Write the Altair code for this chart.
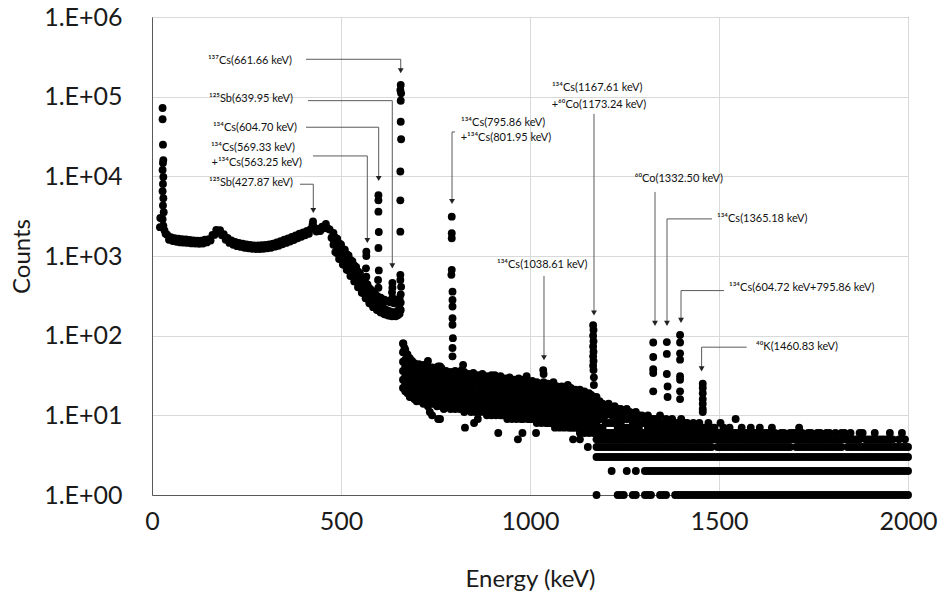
import altair as alt
import pandas as pd

# ---------------- spectrum data (energy keV, counts) ----------------
# K X-ray region at the low-energy end
xray = [(21, 2300), (22, 3000), (28, 72000), (28, 52000), (29, 25000), (30, 16000),
        (29, 14700), (28, 12000), (30, 9800), (29, 8000), (28, 6500), (30, 5300),
        (29, 4300), (31, 3550), (28, 2900), (30, 2400), (33, 2100), (36, 1900)]

# Compton continuum below the Compton edge
continuum = [(40, 1850), (45, 1600), (50, 1720), (55, 1540), (60, 1670), (65, 1510),
             (70, 1650), (75, 1480), (80, 1620), (85, 1470), (90, 1610), (95, 1460),
             (100, 1590), (105, 1440), (110, 1570), (115, 1430), (120, 1560), (125, 1420),
             (130, 1560), (135, 1430), (140, 1600), (145, 1480), (150, 1620), (155, 1560),
             (160, 1840), (165, 1840), (170, 2130), (175, 2000), (180, 2110), (185, 1820),
             (190, 1880), (195, 1600), (200, 1690), (205, 1460), (210, 1570), (215, 1380),
             (220, 1500), (225, 1330), (230, 1460), (235, 1300), (240, 1430), (245, 1270),
             (250, 1400), (255, 1250), (260, 1380), (265, 1230), (270, 1360), (275, 1220),
             (280, 1360), (285, 1220), (290, 1370), (295, 1230), (300, 1380), (305, 1250),
             (310, 1400), (315, 1270), (320, 1430), (325, 1310), (330, 1480), (335, 1340),
             (340, 1530), (345, 1400), (350, 1600), (355, 1460), (360, 1660), (365, 1520),
             (370, 1730), (375, 1590), (380, 1810), (385, 1670), (390, 1900), (395, 1740),
             (400, 1980), (405, 1820), (410, 2070), (415, 1900), (420, 2180), (425, 2500),
             (430, 2250), (435, 2030), (440, 2180), (445, 2060), (450, 2340), (455, 2230),
             (460, 2520), (465, 2220), (470, 2150), (475, 1700)]

# falling edge between the Compton edge and the 661 keV photopeak: (E, high, mid, low)
falling = [(480, 1950, 1600, 1380), (485, 1700, 1450, 1120), (490, 1650, 1280, 1080),
           (495, 1450, 1200, 920), (500, 1400, 1080, 900), (505, 1230, 1020, 780),
           (510, 1200, 920, 770), (515, 1050, 870, 670), (520, 1020, 780, 660),
           (525, 890, 740, 560), (530, 860, 660, 560), (535, 760, 630, 480),
           (540, 730, 560, 475), (545, 640, 535, 405), (550, 610, 475, 400),
           (555, 540, 445, 345), (560, 520, 400, 340), (565, 460, 380, 295),
           (570, 440, 340, 290), (575, 395, 325, 255), (580, 375, 295, 250),
           (585, 345, 280, 228), (590, 335, 262, 228), (595, 315, 262, 210),
           (600, 305, 245, 207), (605, 300, 236, 196), (610, 285, 226, 194),
           (615, 282, 216, 186), (620, 270, 211, 185), (625, 272, 204, 179),
           (630, 262, 202, 179), (635, 268, 197, 175), (640, 255, 196, 176),
           (645, 262, 194, 175), (650, 275, 206, 181), (655, 295, 218, 188)]

# continuum above 661 keV, several channels per energy bin
band = [(664, [80, 62, 47, 36, 28, 22]), (670, [66, 50, 41, 31, 25, 20]),
        (676, [58, 46, 35, 29, 23, 19]), (682, [52, 40, 33, 26, 21, 17]),
        (688, [48, 39, 30, 24, 20, 17]), (694, [45, 36, 29, 23, 19, 16]),
        (700, [41, 35, 27, 22, 18, 15]), (706, [44, 33, 28, 21, 17, 16]),
        (712, [39, 32, 26, 23, 19, 15]), (718, [43, 34, 25, 20, 17, 14]),
        (724, [37, 31, 27, 21, 18, 16]), (730, [41, 30, 24, 22, 16, 13]),
        (736, [36, 33, 26, 20, 17, 15]), (742, [40, 29, 25, 19, 16, 14]),
        (748, [35, 30, 23, 21, 18, 14]), (754, [38, 32, 24, 18, 15, 13]),
        (760, [34, 28, 25, 20, 16, 14]), (766, [39, 30, 22, 19, 17, 13]),
        (772, [33, 29, 24, 18, 15, 12]), (778, [36, 27, 23, 20, 16, 14]),
        (784, [32, 30, 22, 17, 15, 13]), (790, [35, 28, 21, 19, 16, 12]),
        (796, [33, 26, 23, 18, 14, 13]), (802, [36, 29, 22, 17, 15, 12]),
        (808, [31, 27, 21, 19, 16, 13]), (814, [34, 25, 23, 17, 14, 12]),
        (820, [32, 28, 20, 18, 15, 13]), (826, [35, 26, 22, 16, 14, 11]),
        (832, [30, 27, 21, 18, 15, 12]), (838, [33, 25, 20, 17, 13, 12]),
        (844, [31, 28, 22, 16, 15, 11]), (850, [34, 24, 21, 18, 14, 12]),
        (856, [29, 26, 20, 17, 13, 11]), (862, [32, 27, 19, 16, 15, 12]),
        (868, [30, 24, 21, 17, 14, 11]), (874, [33, 26, 20, 15, 13, 12]),
        (880, [29, 25, 19, 17, 14, 11]), (886, [31, 23, 21, 16, 13, 10]),
        (892, [28, 26, 19, 15, 14, 11]), (898, [32, 24, 20, 17, 13, 10]),
        (904, [29, 25, 18, 16, 12, 11]), (910, [30, 23, 20, 15, 14, 10]),
        (916, [27, 24, 19, 16, 12, 11]), (922, [31, 22, 18, 15, 13, 10]),
        (928, [28, 24, 20, 14, 12, 10]), (934, [29, 23, 17, 16, 13, 10]),
        (940, [26, 22, 19, 15, 12, 9]), (946, [30, 24, 18, 14, 11, 10]),
        (952, [27, 21, 19, 15, 13, 9]), (958, [28, 23, 17, 14, 12, 10]),
        (964, [26, 22, 18, 15, 11, 9]), (970, [29, 21, 17, 13, 12, 10]),
        (976, [25, 23, 18, 14, 11, 9]), (982, [28, 20, 16, 15, 12, 9]),
        (988, [26, 22, 17, 13, 11, 10]), (994, [27, 21, 18, 14, 12, 9]),
        (1000, [25, 20, 16, 13, 11, 9]), (1006, [27, 22, 17, 14, 10, 9]),
        (1012, [24, 21, 16, 13, 12, 9]), (1018, [26, 19, 17, 14, 11, 8]),
        (1024, [25, 21, 15, 13, 10, 9]), (1030, [24, 20, 16, 12, 11, 8]),
        (1036, [26, 19, 15, 13, 10, 9]), (1042, [23, 20, 16, 12, 10, 8]),
        (1048, [25, 18, 15, 13, 11, 8]), (1054, [22, 19, 14, 12, 9, 8]),
        (1060, [24, 18, 15, 11, 10, 8]), (1066, [22, 19, 14, 12, 9, 7]),
        (1072, [23, 17, 15, 11, 10, 8]), (1078, [21, 18, 13, 12, 9, 7]),
        (1084, [23, 17, 14, 11, 10, 8]), (1090, [21, 18, 13, 11, 9, 7]),
        (1096, [22, 16, 14, 12, 9, 8]), (1102, [20, 17, 13, 10, 9, 7]),
        (1108, [22, 16, 14, 11, 8, 7]), (1114, [20, 17, 12, 11, 9, 7]),
        (1120, [21, 15, 13, 10, 8, 7]), (1126, [19, 16, 12, 11, 9, 7]),
        (1132, [21, 15, 13, 10, 8, 6]), (1138, [19, 16, 12, 10, 9, 7]),
        (1144, [20, 15, 12, 9, 8, 6]), (1150, [18, 16, 13, 10, 8, 7]),
        (1156, [19, 14, 12, 10, 8, 6]), (1162, [18, 15, 11, 9, 8, 7]),
        (1168, [17, 14, 12, 9, 7, 6])]

# high-energy tail, integer counts per energy bin
tail = [(1176, [17, 13, 10, 8, 6, 5, 4, 3, 1]), (1184, [15, 12, 9, 7, 6, 5, 4, 3]),
        (1192, [14, 11, 9, 7, 5, 4, 3]), (1200, [13, 10, 8, 6, 5, 4, 3]),
        (1208, [14, 11, 8, 6, 5, 4, 3]), (1216, [12, 10, 8, 6, 5, 4, 3, 2]),
        (1224, [13, 10, 8, 6, 5, 4, 3]), (1232, [12, 9, 7, 6, 5, 4, 3, 1]),
        (1240, [12, 10, 8, 6, 5, 4, 3, 1]), (1248, [11, 9, 7, 6, 5, 4, 3, 1]),
        (1256, [12, 9, 7, 6, 5, 4, 3, 2]), (1264, [11, 9, 7, 6, 5, 4, 3]),
        (1272, [10, 8, 7, 6, 5, 4, 3, 1]), (1280, [11, 9, 7, 6, 5, 4, 3, 2, 1]),
        (1288, [10, 8, 7, 5, 4, 3]), (1296, [10, 8, 6, 5, 4, 3]),
        (1304, [9, 8, 6, 5, 4, 3, 2, 1]), (1312, [10, 8, 7, 6, 5, 4, 3, 2, 1]),
        (1320, [9, 7, 6, 5, 4, 3, 2, 1]), (1328, [9, 8, 6, 5, 4, 3, 2]),
        (1336, [9, 7, 6, 5, 4, 3, 2]), (1344, [10, 8, 6, 5, 4, 3, 2, 1]),
        (1352, [8, 7, 6, 5, 4, 3, 2, 1]), (1360, [9, 7, 6, 5, 4, 3, 2, 1]),
        (1368, [8, 7, 6, 5, 4, 3, 2]), (1376, [9, 7, 6, 5, 4, 3, 2]),
        (1384, [8, 7, 6, 5, 4, 3, 2, 1]), (1392, [8, 7, 6, 5, 4, 3, 2, 1]),
        (1400, [9, 7, 6, 5, 4, 3, 2, 1]), (1408, [8, 6, 5, 4, 3, 2, 1]),
        (1416, [8, 7, 6, 5, 4, 3, 2, 1]), (1424, [7, 6, 5, 4, 3, 2, 1]),
        (1432, [8, 6, 5, 4, 3, 2, 1]), (1440, [7, 6, 5, 4, 3, 2, 1]),
        (1448, [8, 7, 6, 5, 4, 3, 2, 1]), (1456, [7, 6, 5, 4, 3, 2, 1]),
        (1464, [7, 6, 5, 4, 3, 2, 1]), (1472, [8, 6, 5, 4, 3, 2, 1]),
        (1480, [7, 6, 5, 4, 3, 2, 1]), (1488, [7, 6, 5, 3, 2, 1]),
        (1496, [6, 5, 4, 3, 2, 1]), (1504, [8, 6, 5, 4, 3, 2, 1]),
        (1512, [7, 6, 5, 4, 3, 2, 1]), (1520, [6, 5, 4, 3, 2, 1]),
        (1528, [7, 6, 5, 4, 3, 2, 1]), (1536, [6, 5, 4, 3, 2, 1]),
        (1544, [9, 6, 5, 4, 3, 2, 1]), (1552, [6, 5, 4, 3, 2, 1]),
        (1560, [7, 6, 5, 4, 3, 2, 1]), (1568, [6, 5, 4, 3, 2, 1]),
        (1576, [6, 5, 4, 3, 2, 1]), (1584, [7, 6, 5, 4, 3, 2, 1]),
        (1592, [6, 5, 4, 3, 2, 1]), (1600, [6, 5, 4, 3, 2, 1]),
        (1608, [7, 6, 5, 4, 3, 2, 1]), (1616, [6, 5, 4, 3, 2, 1]),
        (1624, [6, 5, 4, 3, 2, 1]), (1632, [6, 5, 4, 3, 2, 1]),
        (1640, [7, 5, 4, 3, 2, 1]), (1648, [6, 5, 4, 3, 2, 1]),
        (1656, [5, 4, 3, 2, 1]), (1664, [6, 5, 4, 3, 2, 1]),
        (1672, [6, 5, 4, 3, 2, 1]), (1680, [5, 4, 3, 2, 1]),
        (1688, [6, 5, 4, 3, 2, 1]), (1696, [6, 5, 3, 2, 1]),
        (1704, [6, 5, 4, 3, 2, 1]), (1712, [7, 5, 4, 3, 2, 1]),
        (1720, [6, 5, 4, 3, 2, 1]), (1728, [5, 4, 3, 2, 1]),
        (1736, [6, 5, 4, 3, 2, 1]), (1744, [6, 5, 4, 3, 2, 1]),
        (1752, [5, 4, 3, 2, 1]), (1760, [6, 5, 4, 3, 2, 1]),
        (1768, [6, 5, 4, 3, 2, 1]), (1776, [5, 4, 3, 2, 1]),
        (1784, [6, 5, 4, 3, 2, 1]), (1792, [6, 5, 4, 3, 2, 1]),
        (1800, [5, 4, 3, 2, 1]), (1808, [6, 5, 4, 3, 2, 1]),
        (1816, [5, 4, 3, 2, 1]), (1824, [6, 5, 4, 3, 2, 1]),
        (1832, [6, 5, 3, 2, 1]), (1840, [5, 4, 3, 2, 1]),
        (1848, [6, 5, 4, 3, 2, 1]), (1856, [5, 4, 3, 2, 1]),
        (1864, [5, 4, 3, 2, 1]), (1872, [6, 5, 4, 3, 2, 1]),
        (1880, [6, 4, 3, 2, 1]), (1888, [5, 4, 3, 2, 1]),
        (1896, [5, 4, 3, 2, 1]), (1904, [5, 4, 3, 2, 1]),
        (1912, [6, 5, 4, 3, 2, 1]), (1920, [5, 4, 3, 2, 1]),
        (1928, [5, 4, 3, 2, 1]), (1936, [5, 4, 3, 2, 1]),
        (1944, [5, 4, 3, 2, 1]), (1952, [6, 5, 4, 3, 2, 1]),
        (1960, [5, 4, 3, 2, 1]), (1968, [4, 3, 2, 1]),
        (1976, [5, 4, 3, 2, 1]), (1984, [6, 4, 3, 2, 1]),
        (1992, [5, 4, 3, 2, 1]), (2000, [4, 3, 2, 1])]

# photopeak channels
peaks = [(426, 2720), (427, 2350),
         (567, 1130), (567, 1000), (566, 700), (567, 550), (566, 430),
         (599, 5800), (599, 5000), (599, 3600), (600, 2000), (599, 1260), (600, 660),
         (598, 500), (599, 400),
         (636, 460), (636, 400), (635, 350), (636, 300),
         (658, 140000), (657, 121000), (659, 110000), (658, 89000), (658, 48500),
         (659, 29200), (657, 11500), (657, 5000), (657, 2020), (657, 580), (657, 500),
         (659, 410), (658, 330), (658, 260), (658, 210), (665, 80), (668, 70),
         (793, 3120), (793, 1930), (793, 1670), (793, 670), (792, 580), (795, 357),
         (795, 281), (795, 232), (795, 166), (795, 137), (796, 93), (795, 70), (795, 55),
         (1035, 37), (1036, 33),
         (1167, 135), (1168, 118), (1167, 100), (1168, 85), (1167, 73), (1168, 63),
         (1167, 55), (1168, 48), (1167, 42), (1168, 37), (1169, 30), (1169, 24),
         (1326, 82), (1326, 54), (1326, 38), (1326, 34), (1326, 20),
         (1362, 83), (1362, 59), (1362, 33), (1364, 23), (1364, 17),
         (1397, 102), (1397, 82), (1397, 60), (1397, 50), (1397, 31), (1397, 28),
         (1397, 20), (1397, 16),
         (1457, 25), (1457, 22), (1457, 19), (1457, 16), (1457, 14), (1457, 12), (1457, 11)]

# isolated channels away from the main band
scatter = [(730, 48), (762, 41), (823, 43), (991, 31), (757, 41), (819, 37), (907, 32),
           (1062, 26), (1100, 24), (735, 11), (741, 10), (757, 9),
           (762, 9), (828, 7), (852, 8), (862, 9), (916, 6), (968, 5), (980, 6),
           (1016, 6), (1114, 5), (1132, 5), (1153, 4)]

# ---------------- peak labels ----------------
labels_right = [(370.4, 283000, "¹³⁷Cs(661.66 keV)"),
                (373.0, 92700, "¹²⁵Sb(639.95 keV)"),
                (383.6, 40130, "¹³⁴Cs(604.70 keV)"),
                (378.3, 22520, "¹³⁴Cs(569.33 keV)"),
                (396.8, 14600, "+¹³⁴Cs(563.25 keV)"),
                (373.0, 8195, "¹²⁵Sb(427.87 keV)")]
labels_left = [(817.5, 46770, "¹³⁴Cs(795.86 keV)"),
               (816.7, 30060, "+¹³⁴Cs(801.95 keV)"),
               (1058.0, 128600, "¹³⁴Cs(1167.61 keV)"),
               (1057.4, 78700, "+⁶⁰Co(1173.24 keV)"),
               (1277.0, 9270, "⁶⁰Co(1332.50 keV)"),
               (1494.7, 2921, "¹³⁴Cs(1365.18 keV)"),
               (912.7, 773, "¹³⁴Cs(1038.61 keV)"),
               (1526.5, 394, "¹³⁴Cs(604.72 keV+795.86 keV)"),
               (1597.9, 71.7, "⁴⁰K(1460.83 keV)")]

# leader segments (E1, C1, E2, C2) and arrow heads (E, C)
leaders = [(407.4, 294700, 658.0, 294700), (658.0, 294700, 658.0, 211800),
           (412.7, 89100, 635.7, 89100), (635.7, 89100, 635.7, 752),
           (407.4, 41320, 599.7, 41320), (599.7, 41320, 599.7, 9412),
           (426.0, 18030, 569.6, 18030), (569.6, 18030, 569.6, 1569),
           (391.5, 7960, 426.7, 7960), (426.7, 7960, 426.7, 3733),
           (801.6, 36060, 793.7, 36060), (793.7, 36060, 793.7, 4842),
           (1169.3, 60700, 1169.3, 193),
           (1330.7, 6373, 1330.7, 142.7),
           (1481.5, 2921, 1362.4, 2921), (1362.4, 2921, 1362.4, 142.7),
           (1037.0, 563, 1037.0, 52.7),
           (1513.0, 368, 1399.5, 368), (1399.5, 368, 1399.5, 155.6),
           (1573.0, 71.7, 1454.0, 71.7), (1454.0, 71.7, 1454.0, 38.3)]
arrows = [(658.0, 211800), (635.7, 752), (599.7, 9412), (569.6, 1569), (426.7, 3733),
          (793.7, 4842), (1169.3, 193), (1330.7, 142.7), (1362.4, 142.7), (1037.0, 52.7),
          (1399.5, 155.6), (1454.0, 38.3)]

y_ticks = [1, 10, 100, 1000, 10000, 100000, 1000000]
x_ticks = [0, 500, 1000, 1500, 2000]

# ---------------- tables ----------------
pts = list(xray) + list(continuum) + list(peaks) + list(scatter)
for e, hi, mid, lo in falling:
    pts += [(e, hi), (e, mid), (e, lo)]
for e, cs in band + tail:
    pts += [(e, c) for c in cs]
spec = pd.DataFrame(pts, columns=["energy", "counts"])

seg = pd.DataFrame(leaders, columns=["energy", "counts", "energy2", "counts2"])
arr = pd.DataFrame(arrows, columns=["energy", "counts"])
lab_r = pd.DataFrame(labels_right, columns=["energy", "counts", "text"])
lab_l = pd.DataFrame(labels_left, columns=["energy", "counts", "text"])

x_enc = alt.X("energy:Q", scale=alt.Scale(domain=[0, 2000], nice=False),
              axis=alt.Axis(values=x_ticks, format="d", title="Energy (keV)",
                            grid=True, labelPadding=14, labelFlush=False,
                            labelOverlap=False, titleX=378, titleY=84,
                            titleAlign="center", titleBaseline="middle"))
y_enc = alt.Y("counts:Q", scale=alt.Scale(type="log", domain=[1, 1000000], nice=False),
              axis=alt.Axis(values=y_ticks, grid=True, title="Counts",
                            labelExpr="'1.E+0' + format(log(datum.value) / LN10, '.0f')",
                            labelPadding=30, labelOverlap=False, labelFlush=False,
                            titleX=-130, titleY=239, titleAlign="center",
                            titleBaseline="middle", titleAngle=-90))

points = alt.Chart(spec).mark_circle(size=62, color="black", opacity=1).encode(x=x_enc, y=y_enc)

lines = alt.Chart(seg).mark_rule(color="#5a5a5a", strokeWidth=1).encode(
    x="energy:Q", x2="energy2:Q", y="counts:Q", y2="counts2:Q")

heads = alt.Chart(arr).mark_point(shape="triangle-down", filled=True, size=34,
                                  color="#222222", opacity=1).encode(x="energy:Q", y="counts:Q")

txt_r = alt.Chart(lab_r).mark_text(align="right", baseline="middle", font="Lato",
                                   fontSize=11, color="#111111").encode(
    x="energy:Q", y="counts:Q", text="text:N")
txt_l = alt.Chart(lab_l).mark_text(align="left", baseline="middle", font="Lato",
                                   fontSize=11, color="#111111").encode(
    x="energy:Q", y="counts:Q", text="text:N")

chart = alt.layer(points, lines, heads, txt_r, txt_l).properties(
    width=756, height=478,
    autosize=alt.AutoSizeParams(type="none"),
    padding={"left": 152, "top": 17, "right": 34, "bottom": 105},
    background="white",
).configure_view(stroke="#595959", strokeWidth=1).configure_axis(
    labelFont="Lato", titleFont="Lato", labelFontSize=25, titleFontSize=24,
    labelColor="#1a1a1a", titleColor="#1a1a1a", titleFontWeight="normal",
    gridColor="#d9d9d9", gridWidth=1, domainColor="#595959", ticks=False, tickSize=0,
)

chart.save("out.html", embed_options={"renderer": "svg", "actions": False})
